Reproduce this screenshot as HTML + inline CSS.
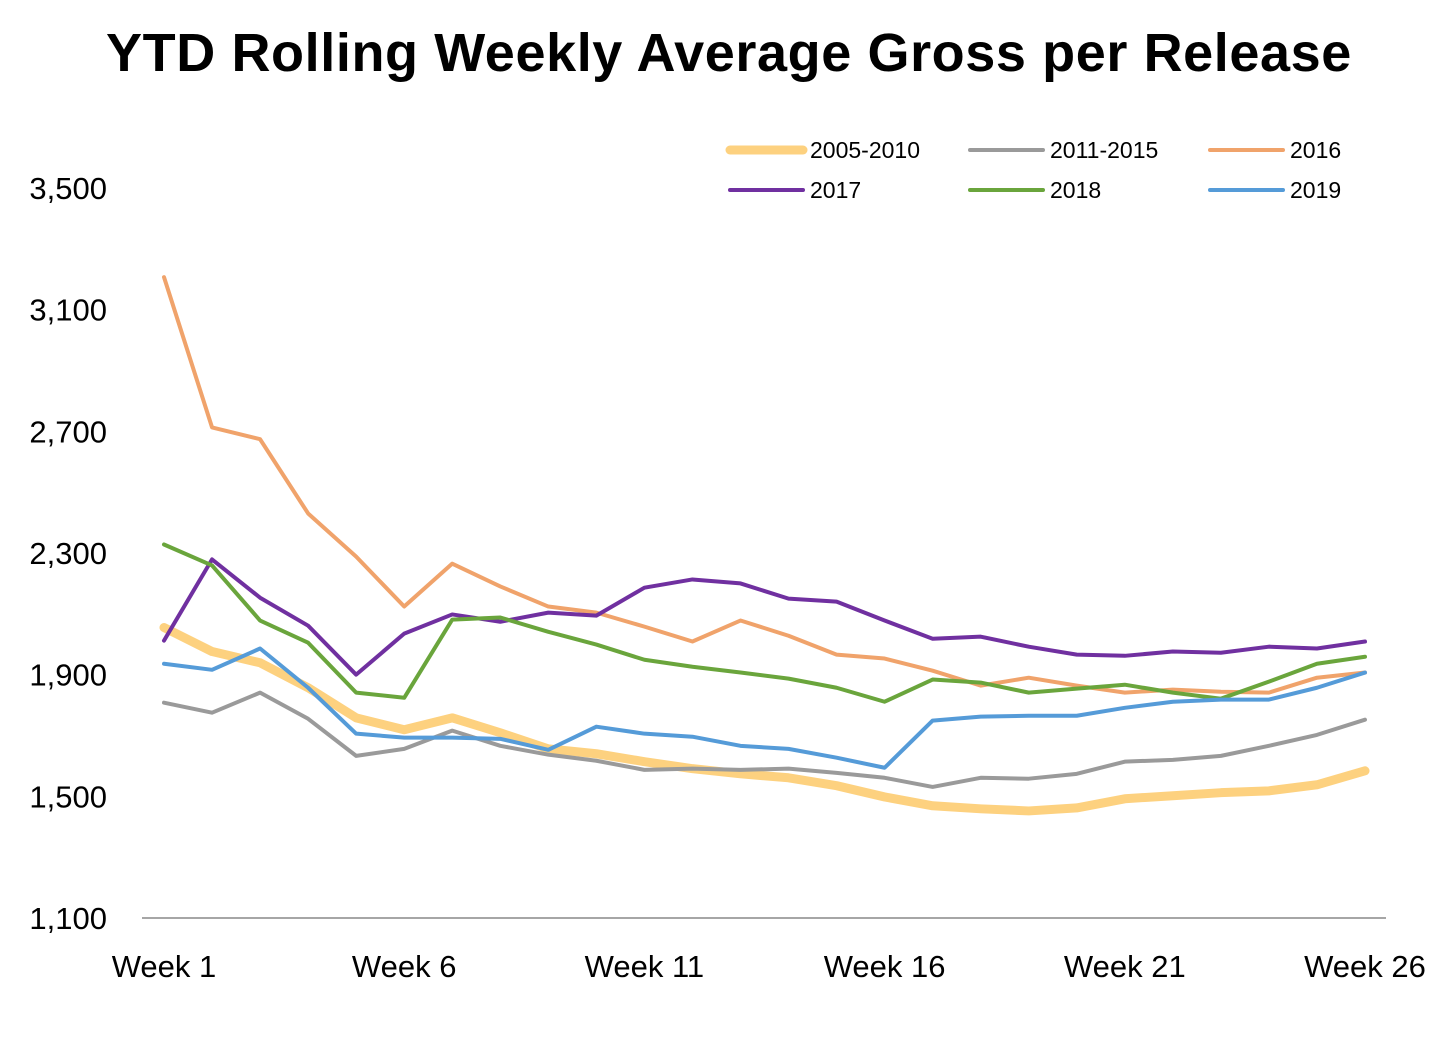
<!DOCTYPE html>
<html><head><meta charset="utf-8"><style>
body{margin:0;background:#fff;width:1456px;height:1034px;overflow:hidden}
svg text{font-family:"Liberation Sans",sans-serif;fill:#000}
</style></head><body>
<svg id="chart" width="1456" height="1034" xmlns="http://www.w3.org/2000/svg">
<text x="729" y="71" text-anchor="middle" font-size="54" font-weight="bold" letter-spacing="0.6">YTD Rolling Weekly Average Gross per Release</text>
<g id="yaxis"></g>
<g id="xaxis"></g>
<g id="series"></g>
<g id="legend"></g>
</svg>
<script>
const weeks = Array.from({length:26},(_, i)=>'Week '+(i+1));
const xTickLabels = ['Week 1','Week 6','Week 11','Week 16','Week 21','Week 26'];
const yTicks = [1100,1500,1900,2300,2700,3100,3500];
const seriesNames = ['2005-2010','2011-2015','2016','2017','2018','2019'];
const s2005_2010 = [2055,1976,1939,1857,1758,1719,1758,1709,1656,1640,1614,1591,1574,1561,1535,1498,1469,1459,1452,1462,1492,1502,1512,1518,1538,1584];
const s2011_2015 = [1808,1775,1841,1755,1633,1656,1716,1666,1637,1617,1587,1591,1587,1591,1577,1561,1531,1561,1558,1574,1614,1620,1633,1666,1702,1752];
const s2016 = [3207,2713,2674,2430,2288,2124,2265,2190,2124,2104,2058,2009,2078,2028,1966,1953,1913,1864,1890,1864,1841,1851,1844,1841,1890,1907];
const s2017 = [2012,2279,2153,2061,1900,2035,2098,2074,2104,2094,2186,2213,2200,2150,2140,2078,2018,2025,1992,1966,1962,1976,1972,1992,1986,2009];
const s2018 = [2328,2259,2078,2005,1841,1824,2081,2088,2041,1999,1949,1926,1907,1887,1857,1811,1884,1874,1841,1854,1867,1841,1821,1877,1936,1959];
const s2019 = [1936,1916,1986,1857,1706,1693,1693,1689,1653,1729,1706,1696,1666,1656,1627,1594,1749,1762,1765,1765,1791,1811,1818,1818,1857,1907];

const NS='http://www.w3.org/2000/svg';
const x0=164,x1=1365,yBase=918,yTop=188;
const xs=i=>x0+(x1-x0)*i/(weeks.length-1);
const ys=v=>yBase-(v-1100)/(3500-1100)*(yBase-yTop);
function mk(tag,attrs,parent){const e=document.createElementNS(NS,tag);for(const k in attrs)e.setAttribute(k,attrs[k]);parent.appendChild(e);return e;}
const yg=document.getElementById('yaxis'),xg=document.getElementById('xaxis'),sg=document.getElementById('series'),lg=document.getElementById('legend');
yTicks.forEach(v=>{const t=mk('text',{x:107,y:ys(v)+11,'text-anchor':'end','font-size':'31'},yg);t.textContent=v.toLocaleString('en-US');

});
const ax=mk('line',{x1:142,x2:1386,y1:yBase,y2:yBase,stroke:'#888','stroke-width':1.5},xg);


xTickLabels.forEach(l=>{const i=weeks.indexOf(l);const t=mk('text',{x:xs(i),y:977,'text-anchor':'middle','font-size':'31'},xg);t.textContent=l;

});
const data=[s2005_2010,s2011_2015,s2016,s2017,s2018,s2019];
const colors=['#FDD17F','#9A9A9A','#F0A36B','#7030A0','#6AA53C','#559BD8'];
const widths=[9,4,4,4,4,4];
data.forEach((d,k)=>{const p=mk('polyline',{points:d.map((v,i)=>xs(i)+','+ys(v)).join(' '),fill:'none',stroke:colors[k],'stroke-width':widths[k],'stroke-linejoin':'round','stroke-linecap':'round'},sg);

});
const lx=[728,968,1208];
seriesNames.forEach((n,k)=>{const cx=lx[k%3],cy=k<3?150:190;
const g=mk('g',{},lg);


mk('line',{x1:cx+2,x2:cx+75,y1:cy,y2:cy,stroke:colors[k],'stroke-width':widths[k],'stroke-linecap':'round'},g);
const t=mk('text',{x:cx+82,y:cy+8,'font-size':'23'},g);t.textContent=n;});
</script>
</body></html>
